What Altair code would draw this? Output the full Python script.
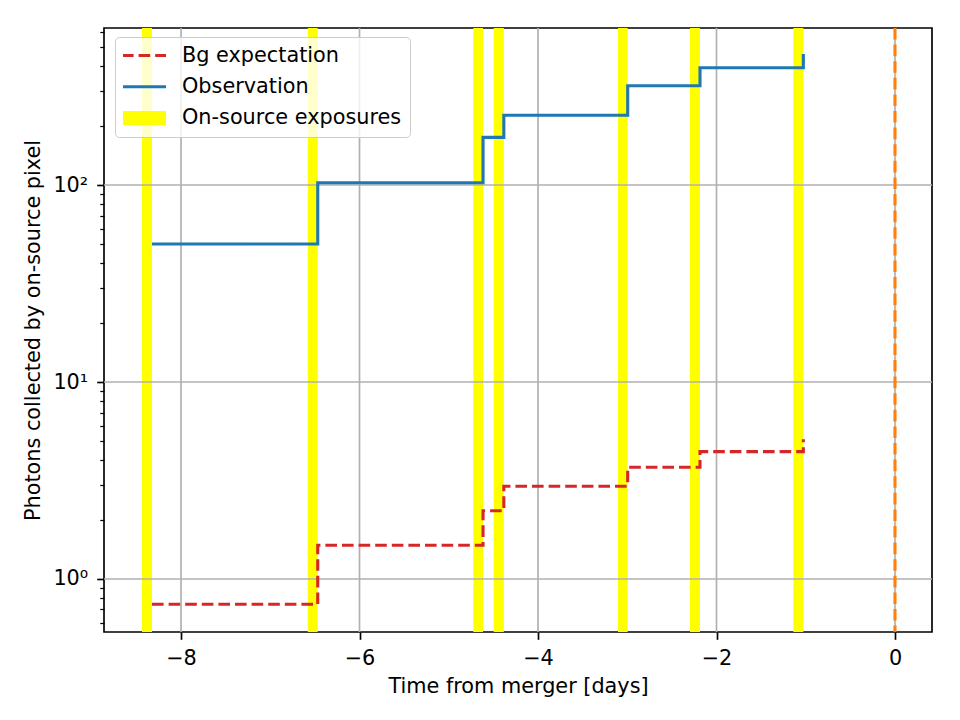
import altair as alt
import pandas as pd

# ---- data ----
band_start = [-8.437, -6.580, -4.725, -4.496, -3.104, -2.297, -1.139]
band_end = [-8.325, -6.468, -4.616, -4.383, -2.995, -2.185, -1.027]

step_t = [-8.325, -6.468, -4.616, -4.383, -2.995, -2.185, -1.027]
obs_counts = [50.2, 102.7, 174.6, 226.0, 319.0, 394.0, 462.0]
bg_counts = [0.744, 1.483, 2.22, 2.955, 3.69, 4.43, 5.12]

merger_t = [0]
x_ticks = [-8, -6, -4, -2, 0]
y_major = [1, 10, 100]
y_minor = [0.6, 0.7, 0.8, 0.9, 2, 3, 4, 5, 6, 7, 8, 9,
           20, 30, 40, 50, 60, 70, 80, 90, 200, 300, 400, 500, 600]

series_names = ["Bg expectation", "Observation", "On-source exposures"]
series_colors = ["#d62728", "#1f77b4", "#ffff00"]
x_domain = [-8.863, 0.4146]
y_domain = [0.538, 627]

FONT = "DejaVu Sans"
FS = 20.8

# ---- tables ----
bands_df = pd.DataFrame({"start": band_start, "end": band_end})
lines_df = pd.concat([
    pd.DataFrame({"t": step_t, "v": bg_counts, "series": series_names[0]}),
    pd.DataFrame({"t": step_t, "v": obs_counts, "series": series_names[1]}),
], ignore_index=True)
xgrid_df = pd.DataFrame({"gx": x_ticks})
ygrid_df = pd.DataFrame({"gy": y_major})
merger_df = pd.DataFrame({"m": merger_t})

x_scale = alt.Scale(domain=x_domain, nice=False, zero=False)
y_scale = alt.Scale(type="log", domain=y_domain, nice=False)

major_test = "datum.value == 1 || datum.value == 10 || datum.value == 100"

x_axis = alt.Axis(
    values=x_ticks,
    labelExpr="datum.value < 0 ? '\u2212' + abs(datum.value) : '' + datum.value",
    grid=False, domain=False, tickSize=7.3, tickWidth=1.67, tickColor="black",
    labelFont=FONT, labelFontSize=FS, labelColor="black", labelPadding=9,
    labelFlush=False, labelOverlap=False,
    titleFont=FONT, titleFontSize=FS, titleFontWeight="normal", titleColor="black",
    titlePadding=8,
)
y_axis = alt.Axis(
    values=sorted(y_major + y_minor),
    labelExpr="datum.value == 1 ? '10\u2070' : datum.value == 10 ? '10\u00b9' : datum.value == 100 ? '10\u00b2' : ''",
    grid=False, domain=False,
    tickSize={"condition": {"test": major_test, "value": 7.3}, "value": 4.2},
    tickWidth={"condition": {"test": major_test, "value": 1.67}, "value": 1.25},
    tickColor="black",
    labelFont=FONT, labelFontSize=FS, labelColor="black", labelPadding=9,
    labelFlush=False, labelOverlap=False,
    titleFont=FONT, titleFontSize=FS, titleFontWeight="normal", titleColor="black",
    titlePadding=9,
)
X_TITLE = "Time from merger [days]"
Y_TITLE = "Photons collected by on-source pixel"


def xenc(field):
    return alt.X(f"{field}:Q", scale=x_scale, axis=x_axis, title=X_TITLE)


def yenc(field):
    return alt.Y(f"{field}:Q", scale=y_scale, axis=y_axis, title=Y_TITLE)


bands = alt.Chart(bands_df).mark_rect(color="#ffff00").encode(
    x=xenc("start"), x2="end"
)
xgrid = alt.Chart(xgrid_df).mark_rule(color="#b0b0b0", strokeWidth=1.67).encode(x=xenc("gx"))
ygrid = alt.Chart(ygrid_df).mark_rule(color="#b0b0b0", strokeWidth=1.67).encode(y=yenc("gy"))

legend = alt.Legend(
    title=None, orient="none", legendX=11, legendY=9, padding=8,
    symbolType="stroke", symbolSize=1936, clipHeight=21, rowPadding=9.3,
    symbolOffset=-8,
    labelFont=FONT, labelFontSize=FS, labelColor="black", labelOffset=9,
    labelLimit=500,
    fillColor="rgba(255,255,255,0.8)", strokeColor="#cccccc", cornerRadius=4,
    symbolOpacity=1,
)

lines = alt.Chart(lines_df).mark_line(interpolate="step-after").encode(
    x=xenc("t"),
    y=yenc("v"),
    color=alt.Color("series:N", scale=alt.Scale(domain=series_names, range=series_colors),
                    legend=legend, title=None),
    strokeDash=alt.StrokeDash("series:N",
                              scale=alt.Scale(domain=series_names,
                                              range=[[11.6, 5], [1, 0], [1, 0]]),
                              legend=legend, title=None),
    strokeWidth=alt.StrokeWidth("series:N",
                                scale=alt.Scale(type="ordinal", domain=series_names,
                                                range=[3.1, 3.1, 14]),
                                legend=legend, title=None),
)

merger = alt.Chart(merger_df).mark_rule(color="#ff7f0e", strokeWidth=3.1,
                                        strokeDash=[11.6, 5]).encode(x=xenc("m"))

chart = alt.layer(bands, xgrid, ygrid, lines, merger).properties(
    width=828, height=604,
    padding={"left": 104, "top": 28, "right": 28, "bottom": 88},
    autosize="none",
).configure(font=FONT).configure_view(stroke="black", strokeWidth=1.67)

chart.save("out.html", embed_options={"renderer": "svg", "actions": False})
